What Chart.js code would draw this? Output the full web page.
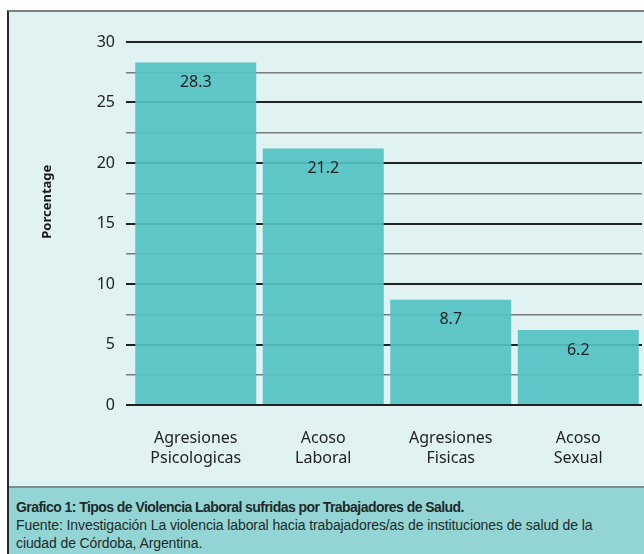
<!DOCTYPE html>
<html>
<head>
<meta charset="utf-8">
<script src="https://cdn.jsdelivr.net/npm/chart.js@4.4.0/dist/chart.umd.min.js"></script>
<style>
  html, body { margin: 0; padding: 0; background: #ffffff; }
  body { width: 644px; height: 554px; position: relative; overflow: hidden; }
  #frame {
    position: absolute; left: 7px; top: 10px; width: 640px; height: 548px;
    background: #e0f2f2; border-left: 2px solid #2a2a2a; border-top: 2px solid #808080;
  }
  #wrap { position: absolute; left: 0; top: 0; width: 644px; height: 491px; }
  #caption {
    position: absolute; left: 9px; top: 486px; width: 640px; height: 70px;
    background: #93d5d4; border-top: 2px solid #7a8f8f;
    font-family: "Liberation Sans Narrow", "Liberation Sans", sans-serif;
    font-size: 14px; line-height: 18px; color: #1e2a2a;
    box-sizing: border-box; padding: 10px 0 0 7px;
  }
  #caption b { font-weight: bold; letter-spacing: -0.55px; }
  #caption span { letter-spacing: -0.1px; }
</style>
</head>
<body>
<div id="frame"></div>
<div id="caption"><b>Grafico 1: Tipos de Violencia Laboral sufridas por Trabajadores de Salud.</b><br><span>Fuente: Investigación La violencia laboral hacia trabajadores/as de instituciones de salud de la<br>ciudad de Córdoba, Argentina.</span></div>
<div id="wrap"><canvas id="c" width="644" height="491"></canvas></div>
<script>
const categories = [["Agresiones", "Psicologicas"], ["Acoso", "Laboral"], ["Agresiones", "Fisicas"], ["Acoso", "Sexual"]];
const values = [28.3, 21.2, 8.7, 6.2];
const yAxisTitle = "Porcentage";
const yMin = 0, yMax = 30, yStep = 2.5;

const valueLabels = {
  id: 'valueLabels',
  afterDatasetsDraw(chart) {
    const ctx = chart.ctx;
    const meta = chart.getDatasetMeta(0);
    ctx.save();
    ctx.font = '16px "Noto Sans"';
    ctx.fillStyle = '#222222';
    ctx.textAlign = 'center';
    ctx.textBaseline = 'middle';
    meta.data.forEach((bar, i) => {
      ctx.fillText(values[i].toFixed(1), bar.x, bar.y + 20);
    });
    ctx.restore();
  }
};

const yTitle = {
  id: 'yTitle',
  afterDraw(chart) {
    const ctx = chart.ctx;
    const a = chart.chartArea;
    ctx.save();
    ctx.translate(47, a.top + (a.bottom - a.top) * 0.44);
    ctx.rotate(-Math.PI / 2);
    ctx.font = 'bold 13px "Noto Sans"';
    ctx.fillStyle = '#1a1a1a';
    ctx.textAlign = 'center';
    ctx.textBaseline = 'middle';
    ctx.fillText(yAxisTitle, 0, 0);
    ctx.restore();
  }
};

new Chart(document.getElementById('c'), {
  type: 'bar',
  data: {
    labels: categories,
    datasets: [{
      data: values,
      backgroundColor: 'rgba(82,194,194,0.92)',
      borderWidth: 0,
      barPercentage: 0.949,
      categoryPercentage: 1.0
    }]
  },
  options: {
    responsive: false,
    animation: false,
    devicePixelRatio: 1,
    layout: { padding: { top: 42, right: 2, bottom: 0, left: 0 } },
    plugins: { legend: { display: false }, tooltip: { enabled: false } },
    scales: {
      x: {
        grid: { display: false, drawTicks: false, tickLength: 0 },
        border: { display: false },
        ticks: {
          padding: 23,
          color: '#222222',
          font: { family: '"Noto Sans"', size: 16, lineHeight: 1.25 },
          maxRotation: 0, autoSkip: false
        }
      },
      y: {
        min: yMin, max: yMax,
        afterFit(scale) { scale.width = 132; },
        border: { display: false },
        grid: {
          tickLength: 6,
          color: (c) => (c.tick && c.tick.value % 5 === 0) ? '#222222' : '#7a7a7a',
          lineWidth: (c) => (c.tick && c.tick.value % 5 === 0) ? 2 : 1.5
        },
        ticks: {
          stepSize: yStep,
          padding: 11,
          color: '#222222',
          font: { family: '"Noto Sans"', size: 16 },
          callback: (v) => (v % 5 === 0 ? String(v) : '')
        }
      }
    }
  },
  plugins: [valueLabels, yTitle]
});
</script>
</body>
</html>
